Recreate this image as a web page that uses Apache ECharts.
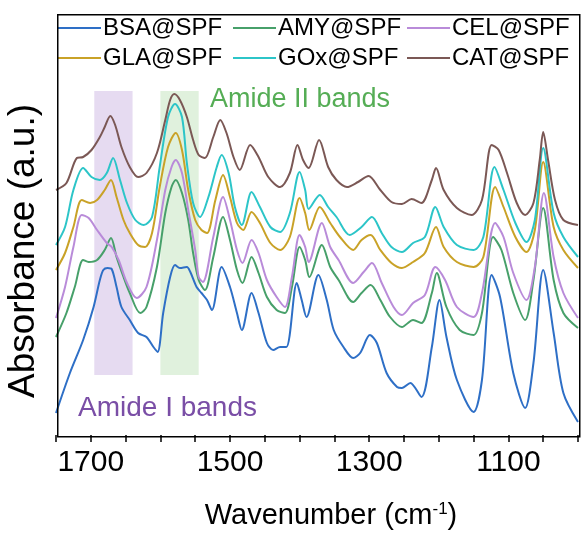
<!DOCTYPE html>
<html><head><meta charset="utf-8">
<script src="https://cdn.jsdelivr.net/npm/echarts@6/dist/echarts.min.js"></script>
<style>html,body{margin:0;padding:0;background:#fff}#c{width:582px;height:533px}</style>
</head><body><div id="c"></div>
<script>
// Series values: [wavenumber (cm-1), relative absorbance (a.u., offset-stacked)]
const seriesNames = ['BSA@SPF','AMY@SPF','CEL@SPF','GLA@SPF','GOx@SPF','CAT@SPF'];
const xTickLabels = [1700, 1500, 1300, 1100];
const bandAmideI = [1695, 1640];
const bandAmideII = [1600, 1545];
const bandTopBottom = [344, 60];

const bsa = [[1750,22],[1730,62],[1711,95],[1696,128],[1687,155],[1682,165],[1676,167],[1670,166],[1663,148],[1656,128],[1644,115],[1632,102],[1620,98],[1610,88],[1604,83],[1596,122],[1586,158],[1579,170],[1572,167],[1562,168],[1557,163],[1548,148],[1541,142],[1533,135],[1526,125],[1512,168],[1500,148],[1490,122],[1483,105],[1469,142],[1459,122],[1447,92],[1438,85],[1428,88],[1419,88],[1404,152],[1397,135],[1390,118],[1373,160],[1361,135],[1351,105],[1337,88],[1323,77],[1313,82],[1299,100],[1289,92],[1275,62],[1260,48],[1253,47],[1241,52],[1225,38],[1210,88],[1199,135],[1189,98],[1174,55],[1150,23],[1138,55],[1124,160],[1112,138],[1093,62],[1076,27],[1064,72],[1050,165],[1035,102],[1021,42],[1000,13]];
const amy = [[1750,98],[1735,122],[1723,148],[1711,175],[1703,173],[1691,175],[1680,185],[1671,197],[1663,178],[1653,158],[1644,142],[1629,122],[1620,128],[1605,168],[1593,222],[1584,248],[1578,255],[1569,242],[1560,215],[1553,182],[1545,155],[1536,145],[1524,178],[1510,218],[1500,195],[1490,165],[1482,152],[1469,178],[1459,162],[1447,138],[1433,125],[1421,122],[1411,148],[1400,188],[1392,175],[1386,158],[1368,190],[1356,168],[1344,155],[1323,133],[1311,142],[1298,150],[1284,135],[1270,118],[1253,108],[1237,115],[1225,112],[1210,142],[1203,162],[1189,128],[1170,105],[1150,100],[1138,122],[1122,198],[1110,185],[1093,142],[1076,115],[1064,155],[1050,227],[1035,155],[1021,122],[1000,107]];
const cel = [[1750,117],[1737,148],[1725,188],[1713,220],[1703,217],[1691,205],[1677,192],[1670,188],[1660,175],[1648,152],[1634,137],[1620,148],[1605,195],[1593,245],[1584,268],[1578,275],[1569,262],[1560,225],[1550,185],[1545,158],[1539,153],[1524,198],[1510,238],[1500,215],[1490,185],[1482,172],[1469,195],[1459,182],[1447,155],[1433,138],[1421,128],[1411,158],[1400,200],[1392,188],[1387,173],[1368,212],[1356,188],[1344,175],[1323,152],[1308,163],[1296,172],[1282,152],[1265,128],[1253,120],[1237,132],[1220,140],[1205,168],[1191,155],[1174,128],[1150,118],[1138,142],[1119,212],[1107,198],[1093,162],[1074,135],[1062,168],[1049,242],[1035,178],[1021,142],[1000,117]];
const gla = [[1750,165],[1737,182],[1725,208],[1713,235],[1701,232],[1691,235],[1680,245],[1671,255],[1663,238],[1653,215],[1644,202],[1632,190],[1622,188],[1612,202],[1601,248],[1589,288],[1578,302],[1569,285],[1560,245],[1550,215],[1541,205],[1533,202],[1521,235],[1510,260],[1500,238],[1490,212],[1481,205],[1469,223],[1457,212],[1442,192],[1428,185],[1414,198],[1400,237],[1392,222],[1386,205],[1371,228],[1356,212],[1342,198],[1323,185],[1311,195],[1298,200],[1284,185],[1268,172],[1253,167],[1237,173],[1220,182],[1204,208],[1193,188],[1174,173],[1150,168],[1136,178],[1119,248],[1107,228],[1090,198],[1074,183],[1062,205],[1050,273],[1035,208],[1021,185],[1000,167]];
const gox = [[1750,190],[1737,208],[1725,245],[1711,267],[1699,258],[1687,255],[1677,262],[1668,277],[1658,255],[1648,232],[1636,215],[1624,210],[1612,218],[1601,268],[1589,318],[1579,331],[1569,318],[1562,272],[1553,232],[1543,218],[1531,238],[1519,268],[1512,280],[1502,262],[1493,228],[1483,210],[1469,243],[1457,228],[1442,208],[1428,203],[1414,222],[1400,263],[1392,245],[1387,226],[1371,240],[1359,228],[1347,218],[1328,200],[1311,208],[1296,218],[1282,202],[1268,188],[1253,183],[1237,192],[1220,198],[1205,228],[1193,208],[1174,190],[1150,185],[1136,198],[1120,268],[1107,245],[1090,212],[1074,193],[1062,215],[1050,287],[1035,222],[1021,198],[1000,178]];
const cat = [[1750,245],[1735,252],[1720,277],[1711,278],[1699,285],[1687,298],[1680,308],[1672,319],[1665,310],[1656,288],[1644,268],[1632,258],[1620,262],[1605,282],[1593,315],[1586,335],[1580,341],[1572,335],[1562,318],[1553,295],[1545,280],[1536,277],[1524,298],[1514,315],[1505,302],[1495,278],[1486,265],[1471,290],[1459,278],[1445,258],[1428,248],[1414,262],[1403,290],[1395,275],[1387,267],[1372,295],[1359,268],[1347,255],[1332,248],[1316,253],[1301,259],[1284,245],[1268,233],[1253,231],[1239,236],[1225,232],[1210,255],[1204,267],[1193,245],[1174,227],[1153,220],[1138,235],[1124,290],[1114,285],[1102,262],[1088,232],[1076,220],[1064,232],[1055,275],[1050,303],[1043,275],[1033,235],[1021,215],[1000,210]];

const seriesData = [bsa, amy, cel, gla, gox, cat];
const colors = ['#2e6fc6','#47a06a','#b98bd9','#c9a227','#2cc5c8','#7b5855'];

const FONT = "'Liberation Sans',Arial,sans-serif";
const G = {left:56, right:4, top:13, bottom:98};
const W = 582, H = 533;

const chart = echarts.init(document.getElementById('c'), null, {renderer:'canvas'});

const legendPos = [[58,16],[233,16],[407,16],[58,46],[233,46],[407,46]];
const legends = seriesNames.map((n,i)=>({
  data:[n], left:legendPos[i][0], top:legendPos[i][1], padding:0,
  icon:'rect', itemWidth:43, itemHeight:2,
  textStyle:{fontFamily:FONT, fontSize:24, color:'#000', padding:[0,0,0,-3]},
  selectedMode:false
}));

const series = seriesNames.map((n,i)=>({
  name:n, type:'line', data:seriesData[i], smooth:0.3, showSymbol:false, symbol:'none',
  lineStyle:{width:2, color:colors[i]}, itemStyle:{color:colors[i]}, z:3, animation:false
}));
series.unshift({
  name:'bands', type:'line', data:[], z:1, animation:false,
  markArea:{silent:true, data:[
    [{xAxis:bandAmideI[0], yAxis:bandTopBottom[0], itemStyle:{color:'#e6dbf1'}},{xAxis:bandAmideI[1], yAxis:bandTopBottom[1]}],
    [{xAxis:bandAmideII[0], yAxis:bandTopBottom[0], itemStyle:{color:'#e0f1dd'}},{xAxis:bandAmideII[1], yAxis:bandTopBottom[1]}]
  ]}
});

chart.setOption({
  animation:false,
  backgroundColor:'#fff',
  grid:{left:G.left, right:G.right, top:G.top, bottom:G.bottom, outerBoundsMode:'none', containLabel:false},
  legend:legends,
  xAxis:{
    type:'value', min:1000, max:1750, interval:50, inverse:true, position:'bottom',
    axisLine:{show:false, onZero:false},
    axisTick:{show:true, inside:false, length:7, lineStyle:{color:'#000', width:1.5}},
    splitLine:{show:false},
    axisLabel:{margin:13, fontFamily:FONT, fontSize:30, color:'#000',
      formatter:v=> xTickLabels.indexOf(v)>=0 ? String(v) : ''},
    name:'{a|Wavenumber (cm}{s|-1}{a|)}', nameLocation:'middle', nameGap:66,
    nameTextStyle:{padding:[0,0,0,28], rich:{
      a:{fontFamily:FONT, fontSize:29, color:'#000'},
      s:{fontFamily:FONT, fontSize:17, color:'#000', verticalAlign:'top', padding:[0,0,12,0]}
    }}
  },
  yAxis:{
    type:'value', min:0, max:422, position:'left',
    axisLine:{show:false, onZero:false},
    axisTick:{show:false}, axisLabel:{show:false}, splitLine:{show:false},
    name:'Absorbance (a.u.)', nameLocation:'middle', nameRotate:90, nameGap:14,
    nameTextStyle:{fontFamily:FONT, fontSize:37, color:'#000', padding:[0,54,0,0]}
  },
  graphic:[
    {type:'rect', left:G.left-0.75, top:G.top-0.75, z:100, silent:true,
      shape:{width:W-G.left-G.right, height:H-G.top-G.bottom},
      style:{fill:'none', stroke:'#000', lineWidth:1.5}},
    {type:'text', left:210, top:86, style:{text:'Amide II bands', font:'27px '+FONT, fill:'#55ad55'}},
    {type:'text', left:78, top:394, style:{text:'Amide I bands', font:'28px '+FONT, fill:'#7a4ea6'}}
  ],
  series:series
});
</script></body></html>
